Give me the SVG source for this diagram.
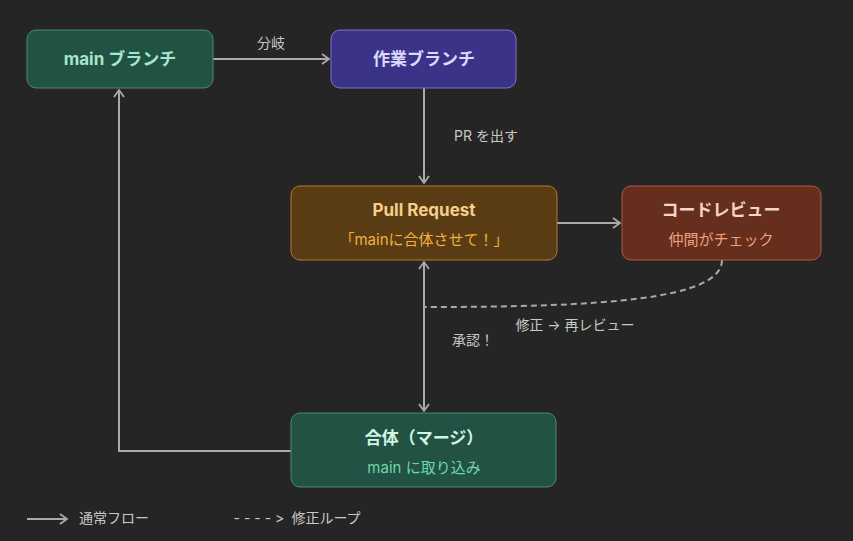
<svg xmlns="http://www.w3.org/2000/svg" width="853" height="541" viewBox="0 0 853 541">
<defs>
<style>
text{font-family:Inter,"Noto Sans CJK JP",sans-serif;text-anchor:middle}
.t{font-size:17px;font-weight:bold}
.s{font-size:15px}
.l{font-size:14px;fill:#c8c8c8}
.e{stroke:#aaaaaa;stroke-width:2;fill:none}
</style>
<marker id="a" markerWidth="12" markerHeight="12" refX="9" refY="6" orient="auto" markerUnits="userSpaceOnUse"><path d="M2,1 L9,6 L2,11" fill="none" stroke="#aaaaaa" stroke-width="1.8"/></marker>
</defs>
<rect width="853" height="541" fill="#252525"/>
<g id="edges">
<path class="e" d="M213,59 H329" marker-end="url(#a)"/>
<text class="l" x="271" y="48">分岐</text>
<path class="e" d="M424,88 V183" marker-end="url(#a)"/>
<text class="l" x="486" y="141">PR を出す</text>
<path class="e" d="M557,223 H620" marker-end="url(#a)"/>
<path class="e" d="M722,260 C722,300 600,307 425,307" stroke-dasharray="6,4" stroke-width="1.5"/>
<path class="e" d="M424,308 V262" marker-end="url(#a)"/>
<path class="e" d="M424,308 V411" marker-end="url(#a)"/>
<text class="l" x="575" y="330">修正 → 再レビュー</text>
<text class="l" x="473" y="345">承認！</text>
<path class="e" d="M291,451 H119 V90" marker-end="url(#a)"/>
</g>
<g id="main"><rect x="27" y="30" width="186" height="58" rx="9" fill="#225244" stroke="#4a8a72"/><text class="t" x="120" y="65" fill="#a8e6cc">main ブランチ</text></g>
<g id="work"><rect x="331" y="30" width="185" height="58" rx="9" fill="#3a3387" stroke="#7d74c8"/><text class="t" x="424" y="65" fill="#dcd8ff">作業ブランチ</text></g>
<g id="pr"><rect x="291" y="186" width="266" height="74" rx="9" fill="#5a3c14" stroke="#b07a2a"/><text class="t" x="424" y="216" fill="#f5d08a">Pull Request</text><text class="s" x="424" y="245" fill="#f0b040">「mainに合体させて！」</text></g>
<g id="review"><rect x="622" y="186" width="199" height="74" rx="9" fill="#662e1c" stroke="#b05a40"/><text class="t" x="721" y="216" fill="#f5d5c8">コードレビュー</text><text class="s" x="721" y="245" fill="#f0a080">仲間がチェック</text></g>
<g id="merge"><rect x="291" y="413" width="265" height="74" rx="9" fill="#225244" stroke="#4a8a72"/><text class="t" x="424" y="444" fill="#d0f5e4">合体（マージ）</text><text class="s" x="424" y="473" fill="#6fd6a8">main に取り込み</text></g>
<g id="legend">
<path class="e" d="M27,519 H67" marker-end="url(#a)"/>
<text class="l" x="114" y="523">通常フロー</text>
<text class="l" x="259" y="523">- - - - &gt;</text>
<text class="l" x="326" y="523">修正ループ</text>
</g>
</svg>
